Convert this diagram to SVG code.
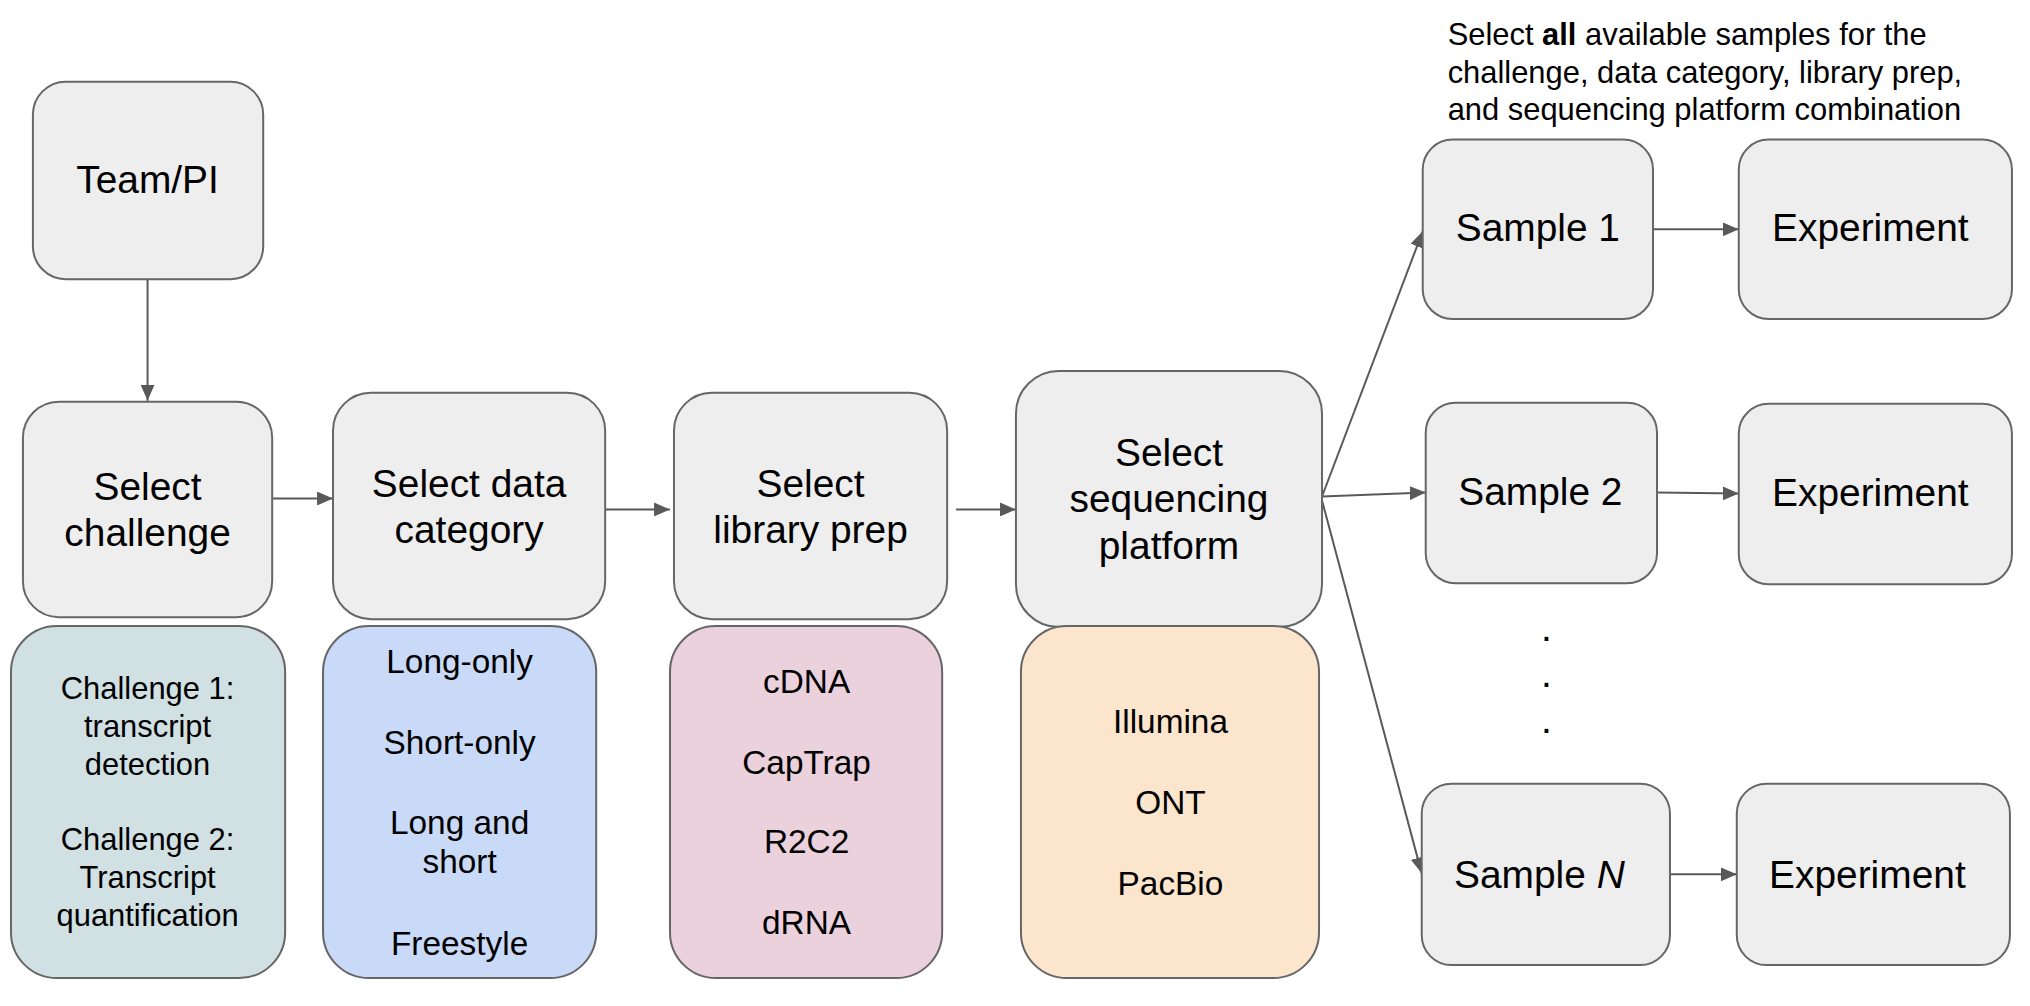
<svg xmlns="http://www.w3.org/2000/svg" width="2030" height="1006" viewBox="0 0 2030 1006">
<style>
.box{fill:#eeeeee;stroke:#666666;stroke-width:2}
.c1{fill:#d0e0e3;stroke:#666666;stroke-width:2}
.c2{fill:#c9daf8;stroke:#666666;stroke-width:2}
.c3{fill:#ead1dc;stroke:#666666;stroke-width:2}
.c4{fill:#fce5cd;stroke:#666666;stroke-width:2}
text{font-family:"Liberation Sans",Arial,sans-serif;fill:#000000}
.t{font-size:39px;text-anchor:middle}
.s{font-size:33.5px;text-anchor:middle}
.sc{font-size:31px;text-anchor:middle}
.ann{font-size:31px}
.conn line{stroke:#595959;stroke-width:2;fill:none;marker-end:url(#arr)}
</style>
<defs>
<marker id="arr" markerUnits="userSpaceOnUse" markerWidth="18" markerHeight="14" refX="16" refY="7" orient="auto">
<path d="M0,0 L16,7 L0,14 Z" fill="#595959"/>
</marker>
</defs>
<rect width="2030" height="1006" fill="#ffffff"/>
<g id="diagram" transform="scale(0.997)">
<g id="connectors" class="conn">
<line x1="148" y1="280" x2="148" y2="402"/>
<line x1="273" y1="500" x2="334" y2="500"/>
<line x1="607" y1="511" x2="672" y2="511"/>
<line x1="959" y1="511" x2="1019" y2="511"/>
<line x1="1326" y1="498" x2="1427" y2="232"/>
<line x1="1326" y1="498" x2="1430" y2="494"/>
<line x1="1326" y1="502" x2="1426" y2="876"/>
<line x1="1658" y1="230" x2="1744" y2="230"/>
<line x1="1662" y1="494" x2="1744" y2="495"/>
<line x1="1675" y1="877" x2="1742" y2="877"/>
</g>

<g id="team">
<rect class="box" x="33" y="82" width="231" height="198" rx="33"/>
<text class="t" x="148" y="194">Team/PI</text>
</g>

<g id="select-challenge">
<rect class="box" x="23" y="403" width="250" height="216" rx="36"/>
<text class="t" x="148" y="502">Select</text>
<text class="t" x="148" y="548">challenge</text>
</g>

<g id="select-data">
<rect class="box" x="334" y="394" width="273" height="227" rx="38"/>
<text class="t" x="470.5" y="498">Select data</text>
<text class="t" x="470.5" y="545">category</text>
</g>

<g id="select-library">
<rect class="box" x="676" y="394" width="274" height="227" rx="38"/>
<text class="t" x="813" y="498">Select</text>
<text class="t" x="813" y="545">library prep</text>
</g>

<g id="select-platform">
<rect class="box" x="1019" y="372" width="307" height="257" rx="43"/>
<text class="t" x="1172.5" y="467">Select</text>
<text class="t" x="1172.5" y="514">sequencing</text>
<text class="t" x="1172.5" y="561">platform</text>
</g>

<g id="challenges">
<rect class="c1" x="11" y="628" width="275" height="353" rx="46"/>
<text class="sc" x="148" y="701">Challenge 1:</text>
<text class="sc" x="148" y="739">transcript</text>
<text class="sc" x="148" y="777">detection</text>
<text class="sc" x="148" y="853">Challenge 2:</text>
<text class="sc" x="148" y="891">Transcript</text>
<text class="sc" x="148" y="929">quantification</text>
</g>

<g id="data-categories">
<rect class="c2" x="324" y="628" width="274" height="353" rx="46"/>
<text class="s" x="461" y="675">Long-only</text>
<text class="s" x="461" y="756">Short-only</text>
<text class="s" x="461" y="837">Long and</text>
<text class="s" x="461" y="876">short</text>
<text class="s" x="461" y="958">Freestyle</text>
</g>

<g id="library-preps">
<rect class="c3" x="672" y="628" width="273" height="353" rx="46"/>
<text class="s" x="809" y="695">cDNA</text>
<text class="s" x="809" y="776">CapTrap</text>
<text class="s" x="809" y="856">R2C2</text>
<text class="s" x="809" y="937">dRNA</text>
</g>

<g id="platforms">
<rect class="c4" x="1024" y="628" width="299" height="353" rx="46"/>
<text class="s" x="1174" y="735">Illumina</text>
<text class="s" x="1174" y="816">ONT</text>
<text class="s" x="1174" y="898">PacBio</text>
</g>

<g id="annotation">
<text class="ann" x="1452" y="45">Select <tspan font-weight="bold">all</tspan> available samples for the</text>
<text class="ann" x="1452" y="83">challenge, data category, library prep,</text>
<text class="ann" x="1452" y="120">and sequencing platform combination</text>
</g>

<g id="sample1">
<rect class="box" x="1427" y="140" width="231" height="180" rx="30"/>
<text class="t" x="1542.5" y="242">Sample 1</text>
</g>
<g id="experiment1">
<rect class="box" x="1744" y="140" width="274" height="180" rx="30"/>
<text class="t" x="1876" y="242">Experiment</text>
</g>

<g id="sample2">
<rect class="box" x="1430" y="404" width="232" height="181" rx="30"/>
<text class="t" x="1545" y="507">Sample 2</text>
</g>
<g id="experiment2">
<rect class="box" x="1744" y="405" width="274" height="181" rx="30"/>
<text class="t" x="1876" y="508">Experiment</text>
</g>

<g id="dots">
<text class="t" x="1551" y="643">.</text>
<text class="t" x="1551" y="689">.</text>
<text class="t" x="1551" y="735">.</text>
</g>

<g id="sampleN">
<rect class="box" x="1426" y="786" width="249" height="182" rx="30"/>
<text class="t" x="1544" y="891">Sample <tspan font-style="italic">N</tspan></text>
</g>
<g id="experiment3">
<rect class="box" x="1742" y="786" width="274" height="182" rx="30"/>
<text class="t" x="1873" y="891">Experiment</text>
</g>
</g>
</svg>
